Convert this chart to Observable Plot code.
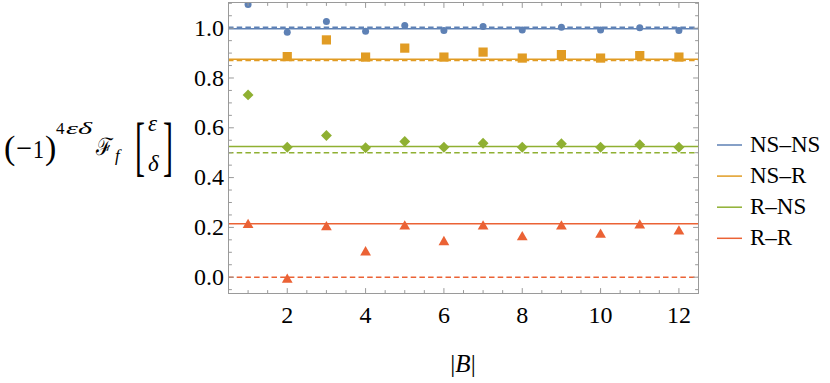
<!DOCTYPE html>
<html><head><meta charset="utf-8">
<script src="https://cdn.jsdelivr.net/npm/d3@7"></script>
<script src="https://cdn.jsdelivr.net/npm/@observablehq/plot@0.6"></script>
<style>
body{margin:0;background:#fff;}
#wrap{position:relative;width:830px;height:383px;}
#wrap svg{position:absolute;left:0;top:0;}
</style></head><body><div id="wrap"></div>
<script>
// ---- data ----
const B = [1,2,3,4,5,6,7,8,9,10,11,12];
const nsns = [1.095, 0.984, 1.027, 0.988, 1.011, 0.991, 1.007, 0.993, 1.004, 0.993, 1.002, 0.991];
const nsr  = [null, 0.886, 0.953, 0.884, 0.920, 0.884, 0.904, 0.880, 0.894, 0.880, 0.890, 0.884];
const rns  = [0.732, 0.522, 0.569, 0.520, 0.545, 0.522, 0.538, 0.522, 0.536, 0.522, 0.532, 0.522];
const rr   = [0.210, -0.010, 0.201, 0.100, 0.204, 0.141, 0.204, 0.161, 0.204, 0.171, 0.208, 0.184];
const series = ["NS–NS", "NS–R", "R–NS", "R–R"];
const colors = ["#5E81B5", "#E19C24", "#8FB032", "#EB6235"];
const solidLevels  = [0.998, 0.875, 0.525, 0.2145];
const dashedLevels = [1.004, 0.870, 0.500, 0.0];
const xTicks = [2, 4, 6, 8, 10, 12];
const yTicks = [0, 0.2, 0.4, 0.6, 0.8, 1.0];
const xMinor = [1, 1.5, 2.5, 3, 3.5, 4.5, 5, 5.5, 6.5, 7, 7.5, 8.5, 9, 9.5, 10.5, 11, 11.5, 12.5];
const yMinor = [-0.05, 0.05, 0.1, 0.15, 0.25, 0.3, 0.35, 0.45, 0.5, 0.55, 0.65, 0.7, 0.75, 0.85, 0.9, 0.95, 1.05, 1.1];

const allSeries = [nsns, nsr, rns, rr];
const symbols = ["circle", "square", "diamond2", "triangle"];
const radii = [3.5, 5.2, 4.9, 4.0];

const rows = [];
allSeries.forEach((vals, si) => vals.forEach((v, i) => { if (v != null) rows.push({B: B[i], v, s: series[si]}); }));
const solid = solidLevels.map((v, i) => ({v, s: series[i]}));
const dashed = dashedLevels.map((v, i) => ({v, s: series[i]}));

const tickShape = {draw(ctx, l) { ctx.moveTo(0, 0); ctx.lineTo(0, -l); }};
const frameGray = "#9a9a9a";
function ticks(data, channel, anchor, rotate, len) {
  const o = {frameAnchor: anchor, rotate, length: len, anchor: "start", shape: tickShape, stroke: frameGray, strokeWidth: 1};
  o[channel] = d => d;
  return Plot.vector(data, o);
}

const plot = Plot.plot({
  width: 830, height: 383,
  marginLeft: 228, marginRight: 132, marginTop: 2, marginBottom: 90,
  x: {domain: [0.5, 12.5]},
  y: {domain: [-0.0655, 1.1032]},
  color: {domain: series, range: colors},
  style: {fontFamily: "'Liberation Serif', serif", fontSize: "24px", background: "white", overflow: "visible"},
  marks: [
    Plot.ruleY(dashed, {y: "v", stroke: "s", strokeWidth: 1.6, strokeDasharray: "5.5,3.2"}),
    Plot.ruleY(solid, {y: "v", stroke: "s", strokeWidth: 1.6}),
    ...symbols.map((sym, si) => Plot.dot(rows.filter(d => d.s === series[si]), {x: "B", y: "v", fill: "s", symbol: sym, r: radii[si], clip: true})),
    Plot.frame({stroke: frameGray, strokeWidth: 1}),
    ticks(xTicks, "x", "bottom", 0, 5), ticks(xMinor, "x", "bottom", 0, 3),
    ticks(xTicks, "x", "top", 180, 5), ticks(xMinor, "x", "top", 180, 3),
    ticks(yTicks, "y", "left", 90, 5), ticks(yMinor, "y", "left", 90, 3),
    ticks(yTicks, "y", "right", -90, 5), ticks(yMinor, "y", "right", -90, 3),
    Plot.axisX({ticks: xTicks, tickSize: 0, tickPadding: 12.5, fontSize: 24, label: null, tickFormat: d3.format("d")}),
    Plot.axisY({ticks: yTicks, tickSize: 0, tickPadding: 4.5, fontSize: 24, label: null, tickFormat: d3.format(".1f")})
  ]
});
document.getElementById("wrap").appendChild(plot);

// ---- overlay: axis titles and legend ----
const ov = d3.select("#wrap").append("svg")
  .attr("width", 830).attr("height", 383)
  .attr("font-family", "'Liberation Serif', serif").attr("fill", "black");

// x-axis title |B|
const xt = ov.append("text").attr("x", 463).attr("y", 372).attr("text-anchor", "middle").attr("font-size", 25);
xt.append("tspan").text("|");
xt.append("tspan").attr("font-style", "italic").text("B");
xt.append("tspan").text("|");

// y-axis title (−1)^{4εδ} ℱ_f [ε; δ]
const g = ov.append("g");
function piece(txt, x, y, size, opts = {}) {
  const t = g.append("text").attr("x", x).attr("y", y).attr("font-size", size).text(txt);
  if (opts.italic) t.attr("font-style", "italic");
  if (opts.len) t.attr("textLength", opts.len).attr("lengthAdjust", "spacingAndGlyphs");
  if (opts.transform) t.attr("transform", opts.transform).attr("x", null).attr("y", null);
  return t;
}
piece("(", 4, 159, 34);
piece("−", 16, 157, 27, {len: 16});
piece("1", 33, 158, 26, {len: 11});
piece(")", 45, 159, 34);
piece("4", 56, 134, 17);
piece("εδ", 66, 134, 17, {italic: true, len: 26});
piece("ℱ", 96, 155, 24, {len: 17});
piece("f", 115, 161, 17, {italic: true});
piece("[", 0, 0, 30, {transform: "translate(135,168) scale(1,2.15)"});
piece("ε", 148, 131, 23, {italic: true});
piece("δ", 148, 171, 23, {italic: true});
piece("]", 0, 0, 30, {transform: "translate(163,168) scale(1,2.15)"});

// legend
series.forEach((s, i) => {
  const y = 145 + i * 31.1;
  ov.append("line").attr("x1", 717).attr("x2", 742).attr("y1", y).attr("y2", y)
    .attr("stroke", colors[i]).attr("stroke-width", 1.5);
  ov.append("text").attr("x", 750).attr("y", y + 6.5).attr("font-size", 23).text(s);
});
</script></body></html>
